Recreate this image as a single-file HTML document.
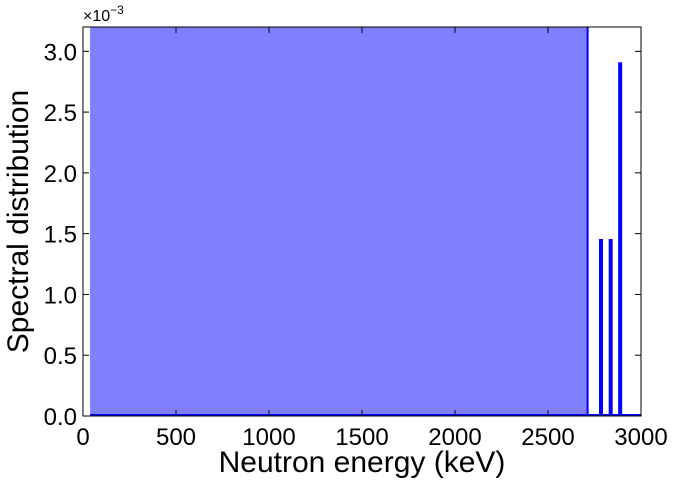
<!DOCTYPE html>
<html><head><meta charset="utf-8"><style>
body{margin:0;background:#fff;}
svg text{font-family:"Liberation Sans",sans-serif;fill:#000;}
</style></head><body>
<svg id="chart" width="674" height="484"></svg>
<script>
const xTicks=[0,500,1000,1500,2000,2500,3000];
const yTicks=[0,0.5,1.0,1.5,2.0,2.5,3.0];
const yTickLabels=["0.0","0.5","1.0","1.5","2.0","2.5","3.0"];
const fillStart=38, fillEnd=2713, fillValue=10;
const lineEnergies=[2785,2837,2888];
const lineValues=[1.456,1.456,2.91];
const L=83,R=641,T=27,B=416;
const sx=v=>L+(v-0)/3000*(R-L);
const sy=v=>B-(v/3.2)*(B-T);
const NS="http://www.w3.org/2000/svg";
const svg=document.getElementById('chart');
function mk(t,a){const e=document.createElementNS(NS,t);for(const k in a)e.setAttribute(k,a[k]);svg.appendChild(e);return e;}
const defs=mk('defs',{});const cp=document.createElementNS(NS,'clipPath');cp.setAttribute('id','c');defs.appendChild(cp);
const cr=document.createElementNS(NS,'rect');cr.setAttribute('x',L);cr.setAttribute('y',T);cr.setAttribute('width',R-L);cr.setAttribute('height',B-T);cp.appendChild(cr);
const g=mk('g',{'clip-path':'url(#c)'});
function add(t,a){const e=document.createElementNS(NS,t);for(const k in a)e.setAttribute(k,a[k]);g.appendChild(e);return e;}
const f=add('rect',{x:sx(fillStart),y:sy(fillValue),width:sx(fillEnd)-sx(fillStart),height:B-sy(fillValue),fill:'#8080ff'});


const el=add('line',{x1:sx(fillEnd),x2:sx(fillEnd),y1:sy(fillValue),y2:B,stroke:'#0000ff','stroke-width':2});


const bl=add('line',{x1:sx(fillStart),x2:R,y1:B-1,y2:B-1,stroke:'#0000ff','stroke-width':2});


lineEnergies.forEach((e,i)=>{
 const b=add('line',{x1:sx(e),x2:sx(e),y1:sy(lineValues[i]),y2:B,stroke:'#0000ff','stroke-width':4});
 
 
});
const fr=mk('rect',{x:L,y:T,width:R-L,height:B-T,fill:'none',stroke:'#000','stroke-width':1});


xTicks.forEach(v=>{const x=sx(v);
 mk('line',{x1:x,x2:x,y1:B,y2:B-6,stroke:'#000'});mk('line',{x1:x,x2:x,y1:T,y2:T+6,stroke:'#000'});
 const t=mk('text',{x:x,y:B+29,'text-anchor':'middle','font-size':24});t.textContent=v;
 
 
});
yTicks.forEach((v,i)=>{const y=sy(v);
 mk('line',{x1:L,x2:L+6,y1:y,y2:y,stroke:'#000'});mk('line',{x1:R,x2:R-6,y1:y,y2:y,stroke:'#000'});
 const t=mk('text',{x:L-6,y:y+9,'text-anchor':'end','font-size':24});t.textContent=yTickLabels[i];
 
 
});
const xt=mk('text',{x:(L+R)/2,y:472,'text-anchor':'middle','font-size':30});xt.textContent='Neutron energy (keV)';


const yt=mk('text',{x:0,y:0,'text-anchor':'middle','font-size':30,transform:`translate(28,${(T+B)/2}) rotate(-90)`});yt.textContent='Spectral distribution';


const ox=mk('text',{x:L,y:21,'font-size':16});ox.innerHTML='×10<tspan dy="-7" font-size="12">−3</tspan>';


</script>
</body></html>
